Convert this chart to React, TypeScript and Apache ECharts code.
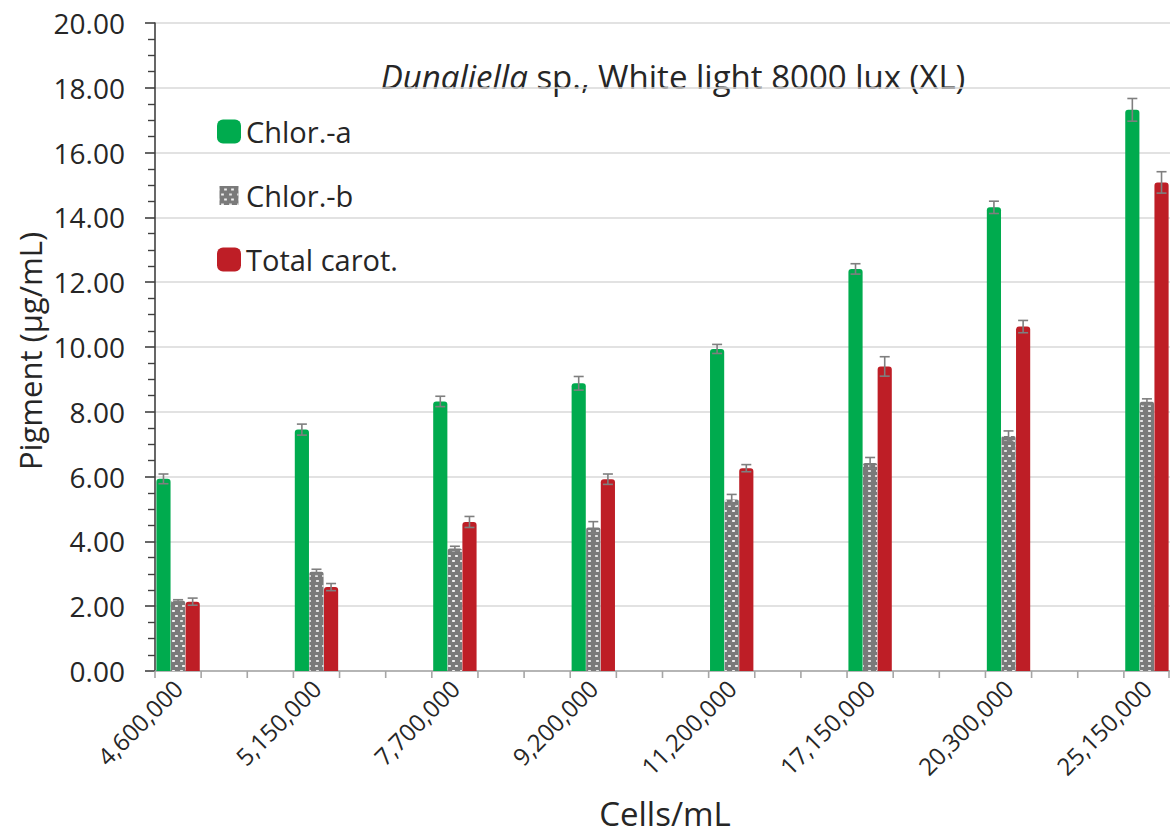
import React, { useEffect, useRef } from "react";
import * as echarts from "echarts";

const categories = ["4,600,000", "5,150,000", "7,700,000", "9,200,000", "11,200,000", "17,150,000", "20,300,000", "25,150,000"];
const chlorA = [5.93, 7.45, 8.32, 8.88, 9.94, 12.41, 14.31, 17.32];
const chlorAErr = [0.15, 0.17, 0.16, 0.21, 0.14, 0.16, 0.19, 0.35];
const chlorB = [2.17, 3.06, 3.78, 4.43, 5.29, 6.42, 7.25, 8.31];
const chlorBErr = [0.03, 0.08, 0.07, 0.18, 0.16, 0.17, 0.16, 0.09];
const carot = [2.14, 2.59, 4.6, 5.92, 6.26, 9.4, 10.63, 15.08];
const carotErr = [0.11, 0.11, 0.17, 0.16, 0.11, 0.3, 0.19, 0.33];
const seriesNames = ["Chlor.-a", "Chlor.-b", "Total carot."];
const yTicks = { min: 0, max: 20, interval: 2 };

const SLOTS = 3; // each cluster sits in every third slot of the axis
const FONT = "'Open Sans', 'Noto Sans', sans-serif";
const TXT = "#262626";
const CAT_GAP = 0.06;
const BAR_GAP = 0.03;

const slotCount = (categories.length - 1) * SLOTS + 1;
const slotLabels = Array.from({ length: slotCount }, (_, i) => (i % SLOTS === 0 ? categories[i / SLOTS] : ""));
const spread = (vals: number[]) => {
  const out: (number | string)[] = Array.from({ length: slotCount }, () => "-");
  vals.forEach((v, i) => (out[i * SLOTS] = v));
  return out;
};

const errSeries = (k: number, vals: number[], errs: number[]) => ({
  type: "custom",
  z: 10,
  silent: true,
  encode: { x: 0, y: 1 },
  data: vals.map((v, i) => [i * SLOTS, v, errs[i]]),
  renderItem: (params: any, api: any) => {
    const idx = api.value(0);
    const v = api.value(1);
    const e = api.value(2);
    const catW = api.size([1, 0])[0];
    const usable = catW * (1 - CAT_GAP);
    const w = usable / (3 + 2 * BAR_GAP);
    const off = -usable / 2 + w / 2 + k * w * (1 + BAR_GAP);
    const top = api.coord([idx, v + e]);
    const bot = api.coord([idx, v - e]);
    const x = top[0] + off;
    const cap = 5;
    const style = { stroke: "#7f7f7f", lineWidth: 1.6 };
    return {
      type: "group",
      children: [
        { type: "line", shape: { x1: x, y1: top[1], x2: x, y2: bot[1] }, style },
        { type: "line", shape: { x1: x - cap, y1: top[1], x2: x + cap, y2: top[1] }, style },
        { type: "line", shape: { x1: x - cap, y1: bot[1], x2: x + cap, y2: bot[1] }, style },
      ],
    };
  },
});

// tick marks at every slot boundary of the category axis
const tickSeries = {
  type: "custom",
  z: 4,
  silent: true,
  clip: false,
  encode: { x: 0, y: 1 },
  data: slotLabels.map((_, i) => [i, yTicks.min]),
  renderItem: (params: any, api: any) => {
    const i = api.value(0);
    const c = api.coord([i, yTicks.min]);
    const w = api.size([1, 0])[0];
    const style = { stroke: "#a6a6a6", lineWidth: 1.6 };
    const xs = [c[0] - w / 2];
    if (i === slotCount - 1) xs.push(c[0] + w / 2 - 1);
    return {
      type: "group",
      children: xs.map((x) => ({ type: "line", shape: { x1: x, y1: c[1], x2: x, y2: c[1] + 7 }, style })),
    };
  },
};

export default function App() {
  const ref = useRef<HTMLDivElement>(null);
  useEffect(() => {
    if (!ref.current) return;
    const chart = echarts.init(ref.current, undefined, { renderer: "svg" });
    const barBase = {
      type: "bar",
      barGap: `${BAR_GAP * 100}%`,
      barCategoryGap: `${CAT_GAP * 100}%`,
    };
    chart.setOption({
      animation: false,
      backgroundColor: "#ffffff",
      textStyle: { fontFamily: FONT, color: TXT },
      grid: { left: 155, right: 0, top: 23, bottom: 165, containLabel: false },
      legend: {
        orient: "vertical",
        left: 212,
        top: 112,
        itemWidth: 24,
        itemHeight: 24,
        itemGap: 35,
        icon: "roundRect",
        data: [
          { name: seriesNames[0] },
          { name: seriesNames[1], icon: "path://M0,0M24,24M2.5,2.5h19v19h-19z" },
          { name: seriesNames[2] },
        ],
        textStyle: { fontFamily: FONT, fontSize: 29, color: TXT },
      },
      xAxis: {
        type: "category",
        data: slotLabels,
        axisLine: { lineStyle: { color: "#a6a6a6", width: 1.6 } },
        axisTick: { show: false },
        axisLabel: {
          interval: 0,
          rotate: 45,
          margin: 13,
          fontFamily: FONT,
          fontSize: 24,
          color: TXT,
        },
      },
      yAxis: {
        type: "value",
        min: yTicks.min,
        max: yTicks.max,
        interval: yTicks.interval,
        axisLine: { show: true, lineStyle: { color: "#404040", width: 1.6 } },
        axisTick: { show: true, length: 10, lineStyle: { color: "#404040", width: 1.6 } },
        minorTick: { show: true, splitNumber: 4, length: 7, lineStyle: { color: "#404040", width: 1.4 } },
        splitLine: { show: true, lineStyle: { color: "#d9d9d9", width: 1.6 } },
        axisLabel: {
          margin: 30,
          fontFamily: FONT,
          fontSize: 28,
          color: TXT,
          formatter: (v: number) => v.toFixed(2),
        },
      },
      graphic: [
        {
          type: "text",
          x: 673,
          y: 76,
          style: {
            text: "{i|Dunaliella} sp., White light 8000 lux (XL)",
            align: "center",
            verticalAlign: "middle",
            fontFamily: FONT,
            fontSize: 33,
            fill: TXT,
            rich: { i: { fontStyle: "italic", fontFamily: FONT, fontSize: 33, fill: TXT } },
          },
        },
        {
          type: "text",
          x: 30,
          y: 351,
          rotation: Math.PI / 2,
          style: {
            text: "Pigment (µg/mL)",
            align: "center",
            verticalAlign: "middle",
            fontFamily: FONT,
            fontSize: 31,
            fill: TXT,
          },
        },
        {
          type: "text",
          x: 665,
          y: 813,
          style: {
            text: "Cells/mL",
            align: "center",
            verticalAlign: "middle",
            fontFamily: FONT,
            fontSize: 33,
            fill: TXT,
          },
        },
      ],
      series: [
        {
          ...barBase,
          name: seriesNames[0],
          data: spread(chlorA),
          itemStyle: { color: "#00ab4e", borderRadius: [3, 3, 0, 0] },
        },
        {
          ...barBase,
          name: seriesNames[1],
          data: spread(chlorB),
          itemStyle: {
            color: "#7a7a7a",
            borderRadius: [2, 2, 0, 0],
            decal: {
              symbol: "rect",
              symbolSize: 0.9,
              color: "#f2f2f2",
              dashArrayX: [[3, 4], [0, 3.5, 3, 0.5]],
              dashArrayY: [1.6, 2.4],
              rotation: 0,
            },
          },
        },
        {
          ...barBase,
          name: seriesNames[2],
          data: spread(carot),
          itemStyle: { color: "#be1e26", borderRadius: [3, 3, 0, 0] },
        },
        errSeries(0, chlorA, chlorAErr),
        errSeries(1, chlorB, chlorBErr),
        errSeries(2, carot, carotErr),
        tickSeries,
      ],
    });
    return () => chart.dispose();
  }, []);
  return <div ref={ref} style={{ position: "fixed", left: 0, top: 0, width: 1170, height: 836 }} />;
}
